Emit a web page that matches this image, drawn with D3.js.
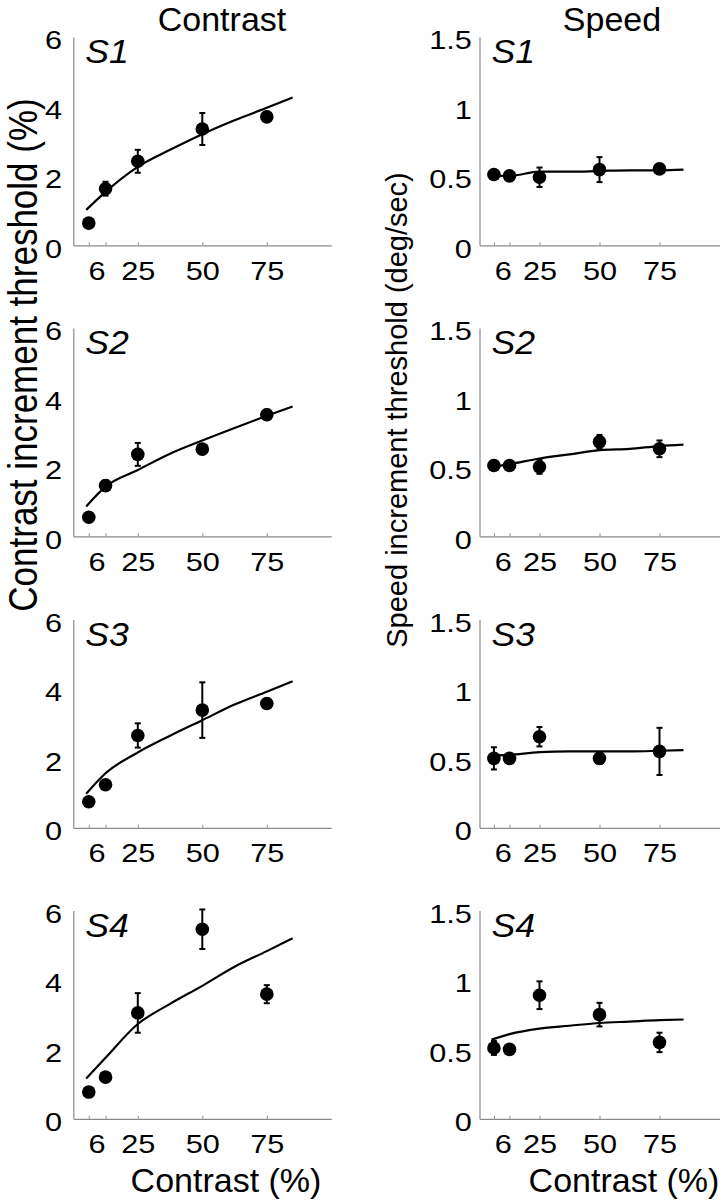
<!DOCTYPE html>
<html>
<head>
<meta charset="utf-8">
<script src="https://cdn.jsdelivr.net/npm/d3@7/dist/d3.min.js"></script>
<style>
  html, body { margin: 0; padding: 0; background: #fff; }
  svg { display: block; font-family: Arial, "Liberation Sans", Helvetica, sans-serif; }
</style>
</head>
<body>
<svg id="chart" width="724" height="1200"></svg>
<script>
// ---------- data ----------
const subjects = ["S1", "S2", "S3", "S4"];
const contrastLevels = [6, 12.5, 25, 50, 75];
const xTickValues = [6, 12.5, 25, 50, 75];
const xTickLabels = ["6", "", "25", "50", "75"];
const contrastYTicks = [0, 2, 4, 6];
const contrastYTickLabels = ["0", "2", "4", "6"];
const speedYTicks = [0, 0.5, 1, 1.5];
const speedYTickLabels = ["0", "0.5", "1", "1.5"];

// contrast increment thresholds (%) per subject
const contrastThresh = [
  [0.64, 1.63, 2.42, 3.35, 3.70],
  [0.55, 1.46, 2.36, 2.51, 3.50],
  [0.75, 1.24, 2.66, 3.39, 3.58],
  [0.77, 1.20, 3.05, 5.46, 3.59]
];
const contrastErr = [
  [0, 0.20, 0.33, 0.46, 0.05],
  [0, 0.15, 0.33, 0, 0.15],
  [0, 0, 0.35, 0.80, 0.10],
  [0, 0, 0.57, 0.57, 0.26]
];
// speed increment thresholds (deg/sec)
const speedThresh = [
  [0.51, 0.50, 0.49, 0.545, 0.55],
  [0.51, 0.51, 0.50, 0.68, 0.63],
  [0.50, 0.50, 0.656, 0.50, 0.55],
  [0.51, 0.50, 0.89, 0.75, 0.55]
];
const speedErr = [
  [0, 0, 0.07, 0.09, 0],
  [0, 0, 0.05, 0.05, 0.06],
  [0.08, 0, 0.07, 0.04, 0.17],
  [0.05, 0, 0.10, 0.085, 0.07]
];
// model fit curves, read at these contrasts
const fitX = [5, 12.5, 25, 37.5, 50, 62.5, 75, 85];
const contrastFit = [
  [1.02, 1.54, 2.26, 2.75, 3.20, 3.60, 3.96, 4.26],
  [0.86, 1.43, 1.91, 2.38, 2.76, 3.12, 3.47, 3.74],
  [0.98, 1.57, 2.17, 2.65, 3.10, 3.55, 3.92, 4.22],
  [1.16, 1.76, 2.73, 3.31, 3.83, 4.38, 4.83, 5.20]
];
const speedFit = [
  [0.50, 0.50, 0.53, 0.53, 0.535, 0.54, 0.54, 0.545],
  [0.50, 0.52, 0.56, 0.59, 0.62, 0.63, 0.65, 0.66],
  [0.52, 0.525, 0.545, 0.55, 0.55, 0.55, 0.555, 0.56],
  [0.57, 0.61, 0.65, 0.67, 0.69, 0.70, 0.71, 0.715]
];

// ---------- layout ----------
const svg = d3.select("#chart");
const rowTop = [37, 328, 619.5, 910.5];
const panelH = 208.3;
const stretch = 1.18;   // glyphs in the original are slightly wide
const cols = [
  { x0: 73.3, x1: 331.3, yMax: 6, ticks: contrastYTicks, tickLabels: contrastYTickLabels,
    means: contrastThresh, errs: contrastErr, fit: contrastFit, sixDx: 6.5, pad: 9.5 },
  { x0: 479.5, x1: 719.5, yMax: 1.5, ticks: speedYTicks, tickLabels: speedYTickLabels,
    means: speedThresh, errs: speedErr, fit: speedFit, sixDx: 7.5, pad: 6.5 }
];
const axisColor = "#8a8a8a";

cols.forEach((c, ci) => {
  const x = d3.scaleLinear().domain([0, 100]).range([c.x0, c.x1]);
  subjects.forEach((s, si) => {
    const top = rowTop[si];
    const bottom = top + panelH;
    const y = d3.scaleLinear().domain([0, c.yMax]).range([bottom, top]);
    const g = svg.append("g");

    // x axis
    const xAxis = d3.axisBottom(x).tickValues(xTickValues)
      .tickFormat((d, i) => xTickLabels[i]).tickSizeInner(-3).tickSizeOuter(0).tickPadding(16);
    const gx = g.append("g").attr("transform", `translate(0,${bottom})`).call(xAxis);
    gx.select(".domain").attr("stroke", axisColor).attr("stroke-width", 1.2);
    gx.selectAll(".tick line").attr("stroke", axisColor).attr("stroke-width", 1);
    gx.selectAll(".tick text").attr("font-size", 26).attr("fill", "#000")
      .attr("font-family", "Arial, 'Liberation Sans', sans-serif")
      .attr("transform", `scale(${stretch},1)`);
    gx.selectAll(".tick text").filter(d => d === 6).attr("dx", c.sixDx);

    // y axis
    const yAxis = d3.axisLeft(y).tickValues(c.ticks)
      .tickFormat((d, i) => c.tickLabels[i]).tickSizeInner(0).tickSizeOuter(0).tickPadding(c.pad);
    const gy = g.append("g").attr("transform", `translate(${c.x0},0)`).call(yAxis);
    gy.select(".domain").attr("stroke", axisColor).attr("stroke-width", 1.2);
    gy.selectAll(".tick text").attr("font-size", 26).attr("fill", "#000")
      .attr("dy", "0.45em")
      .attr("font-family", "Arial, 'Liberation Sans', sans-serif")
      .attr("transform", `scale(${stretch},1)`);

    // fit line
    const line = d3.line().x((d, i) => x(fitX[i])).y(d => y(d)).curve(d3.curveMonotoneX);
    g.append("path").datum(c.fit[si]).attr("d", line)
      .attr("fill", "none").attr("stroke", "#000").attr("stroke-width", 2.2);

    // error bars
    const pts = contrastLevels.map((cl, i) => ({ cl, m: c.means[si][i], e: c.errs[si][i] }));
    const eb = g.selectAll(".eb").data(pts.filter(p => p.e > 0)).enter().append("g");
    eb.append("line").attr("x1", d => x(d.cl)).attr("x2", d => x(d.cl))
      .attr("y1", d => y(d.m - d.e)).attr("y2", d => y(d.m + d.e))
      .attr("stroke", "#000").attr("stroke-width", 2);
    eb.append("line").attr("x1", d => x(d.cl) - 3).attr("x2", d => x(d.cl) + 3)
      .attr("y1", d => y(d.m + d.e)).attr("y2", d => y(d.m + d.e))
      .attr("stroke", "#000").attr("stroke-width", 2);
    eb.append("line").attr("x1", d => x(d.cl) - 3).attr("x2", d => x(d.cl) + 3)
      .attr("y1", d => y(d.m - d.e)).attr("y2", d => y(d.m - d.e))
      .attr("stroke", "#000").attr("stroke-width", 2);

    // points
    g.selectAll(".pt").data(pts).enter().append("circle")
      .attr("cx", d => x(d.cl)).attr("cy", d => y(d.m)).attr("r", 6.8).attr("fill", "#000");

    // subject label
    g.append("text").attr("transform", `translate(${c.x0 + 12},${top + 26}) scale(1.08,1)`)
      .attr("font-size", 33).attr("font-style", "italic").text(s);
  });
});

// column titles
svg.append("text").attr("x", 222).attr("y", 31).attr("text-anchor", "middle")
  .attr("font-size", 34).text("Contrast");
svg.append("text").attr("x", 612).attr("y", 31).attr("text-anchor", "middle")
  .attr("font-size", 34).text("Speed");

// x-axis titles
svg.append("text").attr("x", 226).attr("y", 1192).attr("text-anchor", "middle")
  .attr("font-size", 34).text("Contrast (%)");
svg.append("text").attr("x", 624).attr("y", 1192).attr("text-anchor", "middle")
  .attr("font-size", 34).text("Contrast (%)");

// y-axis titles
svg.append("text").attr("transform", "translate(37,355) scale(1.15,1) rotate(-90)").attr("text-anchor", "middle")
  .attr("font-size", 35).text("Contrast increment threshold (%)");
svg.append("text").attr("transform", "translate(407,410) rotate(-90)").attr("text-anchor", "middle")
  .attr("font-size", 29).text("Speed increment threshold (deg/sec)");
</script>
</body>
</html>
